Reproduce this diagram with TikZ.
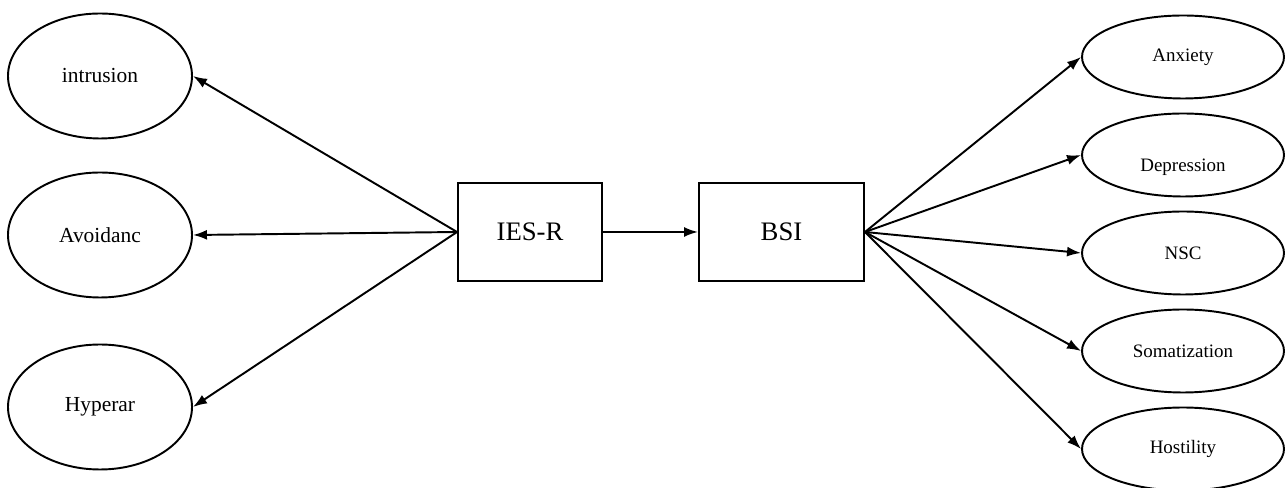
\documentclass[tikz,border=0pt]{standalone}
\usepackage{fontspec}
\setmainfont{Liberation Serif}
\usetikzlibrary{arrows.meta, shapes.geometric}

\tikzset{
	latent/.style={draw, line width=1.1pt, ellipse, inner sep=0pt},
	leftvar/.style={latent, minimum width=3.68cm, minimum height=2.5cm, font=\fontsize{12.2}{14}\selectfont},
	rightvar/.style={latent, minimum width=4.04cm, minimum height=1.66cm, font=\fontsize{10.8}{13}\selectfont},
	scalebox/.style={draw, line width=1.1pt, rectangle, minimum height=1.96cm, inner sep=0pt, font=\fontsize{15.2}{18}\selectfont},
	path/.style={line width=1.1pt, -{Latex[length=2.8mm, width=2mm]}}
}

\begin{document}
\begin{tikzpicture}
	\useasboundingbox (0,0) rectangle (25.74,9.76);

	\node[scalebox, minimum width=2.88cm] (ies) at (10.6,5.12) {IES-R};
	\node[scalebox, minimum width=3.3cm] (bsi) at (15.63,5.12) {BSI};

	\node[leftvar] (intr) at (2.0,8.24) {intrusion};
	\node[leftvar] (avoid) at (2.0,5.06) {Avoidanc};
	\node[leftvar] (hyper) at (2.0,1.62) {Hyperar};

	\node[rightvar] (anx) at (23.66,8.62) {Anxiety};
	\node[rightvar] (dep) at (23.66,6.66) {\raisebox{-0.33cm}[0pt][0pt]{Depression}};
	\node[rightvar] (nsc) at (23.66,4.70) {NSC};
	\node[rightvar] (som) at (23.66,2.74) {Somatization};
	\node[rightvar] (host) at (23.66,0.78) {Hostility};

	\draw[path] (ies.east) -- (bsi.west);

	\foreach \v in {intr, avoid, hyper}
		\draw[path] (ies.west) -- (\v.east);

	\foreach \v in {anx, dep, nsc, som, host}
		\draw[path] (bsi.east) -- (\v.west);
\end{tikzpicture}
\end{document}
